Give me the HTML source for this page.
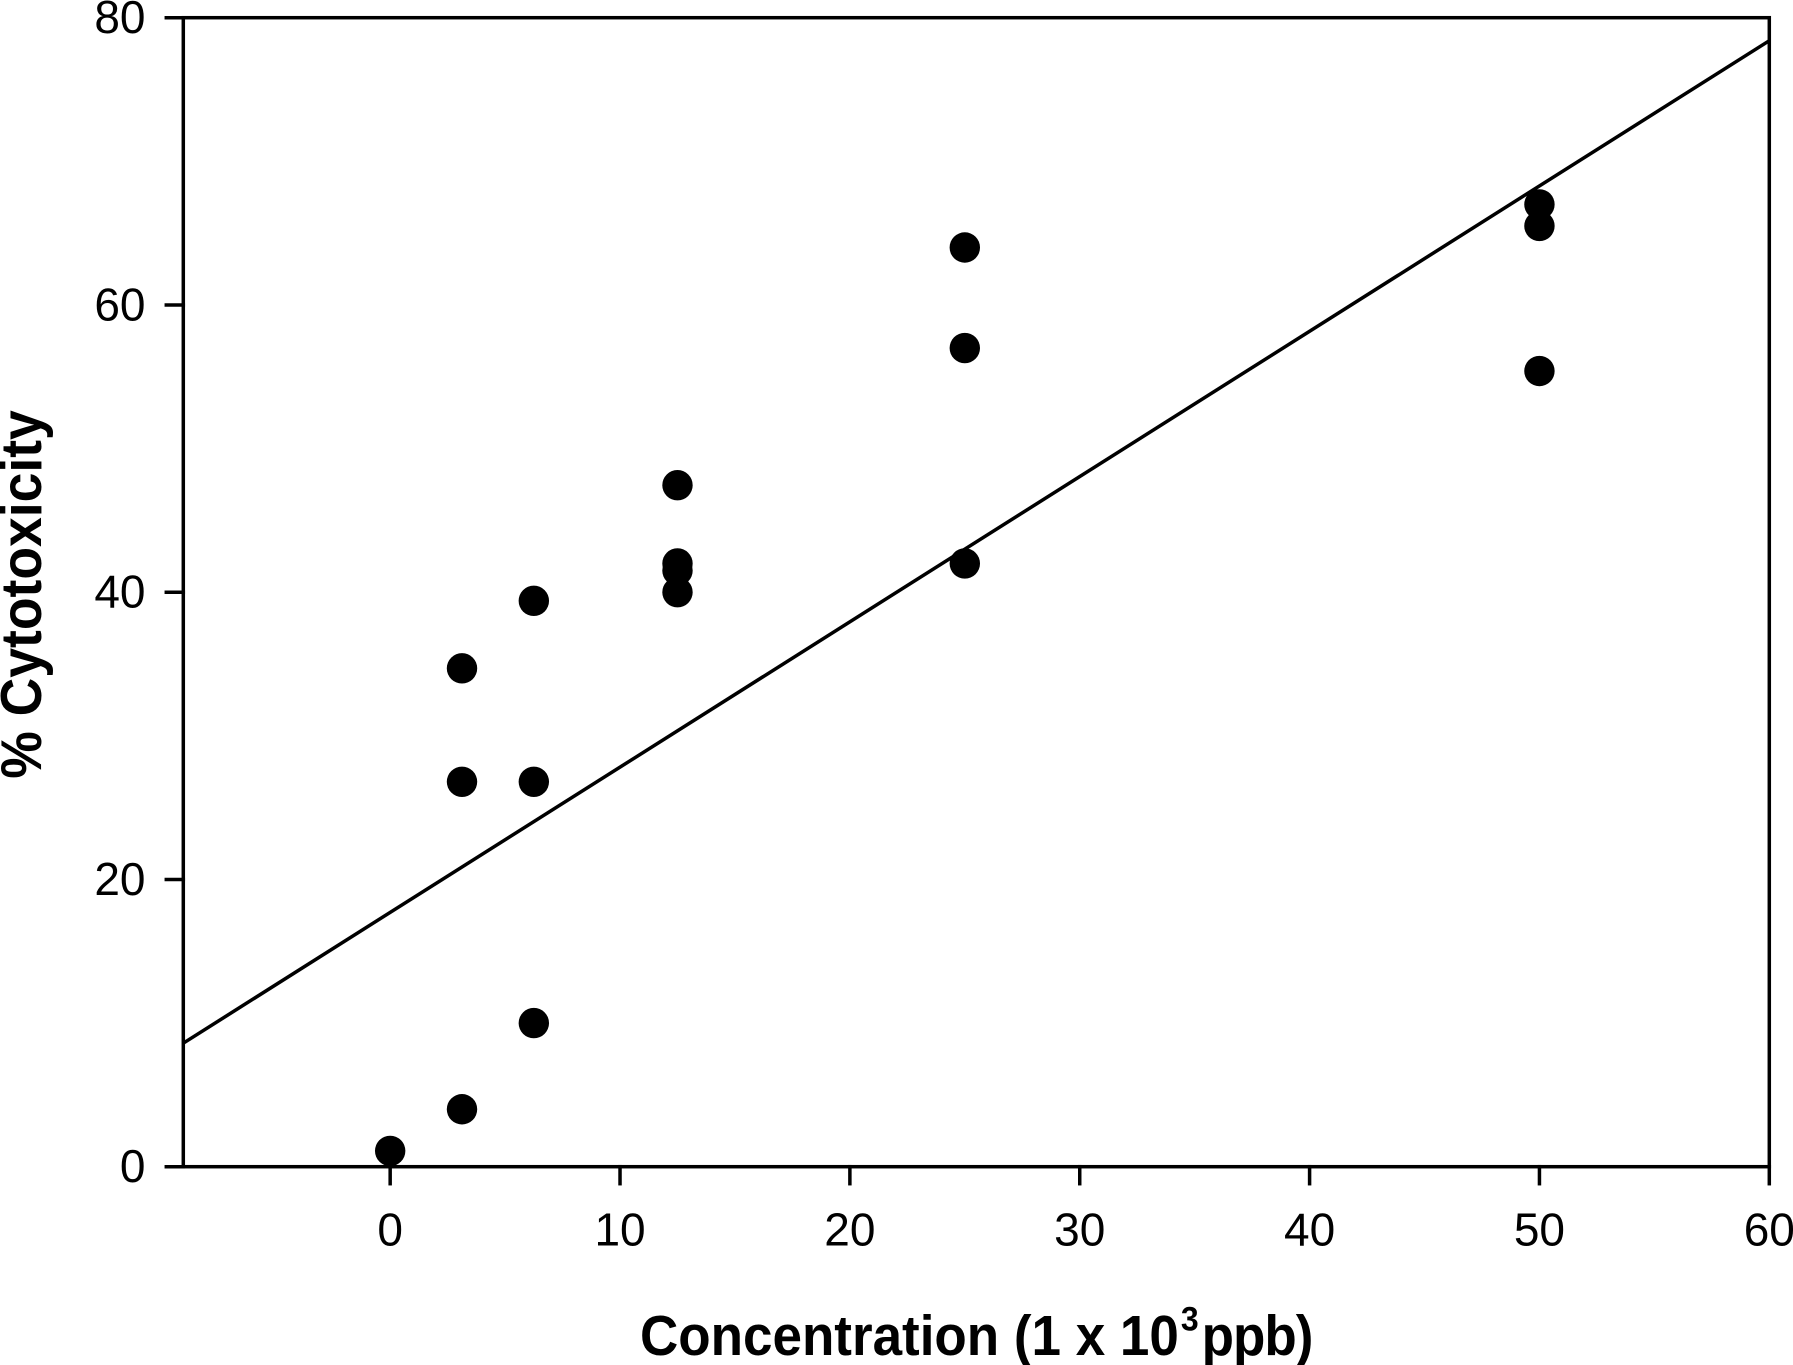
<!DOCTYPE html>
<html lang="en">
<head>
<meta charset="utf-8">
<title>Cytotoxicity vs Concentration</title>
<style>
html,body{margin:0;padding:0;background:#fff;width:1793px;height:1365px;overflow:hidden}
svg{display:block}
text{font-family:"Liberation Sans",Arial,sans-serif;fill:#000}
</style>
</head>
<body>
<svg id="chart" xmlns="http://www.w3.org/2000/svg" width="1793" height="1365" viewBox="0 0 1793 1365">
  <text transform="translate(41,594.5) rotate(-90) scale(1,1.07)" text-anchor="middle" font-size="53.5" font-weight="700">% Cytotoxicity</text>
  <text transform="translate(640,1355) scale(1,1.07)" x="0" y="0" font-size="53" font-weight="700">Concentration (1 x 10<tspan dx="2" dy="-23" font-size="32">3</tspan><tspan dx="3" dy="23" letter-spacing="-1">ppb)</tspan></text>
</svg>
<script>
const xTickValues = [0, 10, 20, 30, 40, 50, 60];
const yTickValues = [0, 20, 40, 60, 80];
const concentration = [0, 3.125, 3.125, 3.125, 6.25, 6.25, 6.25, 12.5, 12.5, 12.5, 12.5, 25, 25, 25, 50, 50, 50];
const cytotoxicity = [1.1, 4, 26.8, 34.7, 10, 26.8, 39.4, 40, 41.5, 42, 47.45, 42, 57, 64, 55.4, 65.5, 67];
const fitLineX = [-9, 60];
const fitLineY = [8.6, 78.4];
const xDomain = [-9, 60];
const yDomain = [0, 80];

const plotLeft = 183.3, plotRight = 1769.3, plotTop = 17.7, plotBottom = 1166.7;
const tickLength = 17;
const strokeWidth = 3.5;
const dotRadius = 15.2;
const SVG_NS = 'http://www.w3.org/2000/svg';
const svg = document.getElementById('chart');

function xScale(v) {
  return plotLeft + (v - xDomain[0]) / (xDomain[1] - xDomain[0]) * (plotRight - plotLeft);
}
function yScale(v) {
  return plotBottom - (v - yDomain[0]) / (yDomain[1] - yDomain[0]) * (plotBottom - plotTop);
}
function drawLine(x1, y1, x2, y2) {
  const el = document.createElementNS(SVG_NS, 'line');
  el.setAttribute('x1', x1);
  el.setAttribute('y1', y1);
  el.setAttribute('x2', x2);
  el.setAttribute('y2', y2);
  el.setAttribute('stroke', '#000');
  el.setAttribute('stroke-width', strokeWidth);
  el.setAttribute('stroke-linecap', 'square');
  svg.appendChild(el);
  return el;
}
function drawLabel(x, y, anchor, content) {
  const el = document.createElementNS(SVG_NS, 'text');
  el.setAttribute('x', x);
  el.setAttribute('y', y);
  el.setAttribute('text-anchor', anchor);
  el.setAttribute('font-size', '46');
  el.textContent = content;
  svg.appendChild(el);
  return el;
}

const frame = document.createElementNS(SVG_NS, 'rect');
frame.setAttribute('x', plotLeft);
frame.setAttribute('y', plotTop);
frame.setAttribute('width', plotRight - plotLeft);
frame.setAttribute('height', plotBottom - plotTop);
frame.setAttribute('fill', 'none');
frame.setAttribute('stroke', '#000');
frame.setAttribute('stroke-width', strokeWidth);


svg.appendChild(frame);

xTickValues.forEach(function (v) {
  const tick = drawLine(xScale(v), plotBottom, xScale(v), plotBottom + tickLength);
  
  
  const label = drawLabel(xScale(v), 1245.5, 'middle', String(v));
  
  
});

yTickValues.forEach(function (v) {
  const tick = drawLine(plotLeft - tickLength, yScale(v), plotLeft, yScale(v));
  
  
  const label = drawLabel(145.5, yScale(v) + 15.5, 'end', String(v));
  
  
});

const fit = drawLine(xScale(fitLineX[0]), yScale(fitLineY[0]), xScale(fitLineX[1]), yScale(fitLineY[1]));
fit.setAttribute('stroke-linecap', 'butt');



concentration.forEach(function (c, i) {
  const dot = document.createElementNS(SVG_NS, 'circle');
  dot.setAttribute('cx', xScale(c));
  dot.setAttribute('cy', yScale(cytotoxicity[i]));
  dot.setAttribute('r', dotRadius);
  dot.setAttribute('fill', '#000');
  
  
  svg.appendChild(dot);
});
</script>
</body>
</html>
